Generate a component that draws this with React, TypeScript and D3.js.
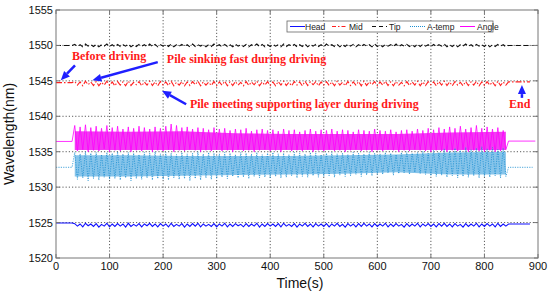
import React from "react";
import * as d3 from "d3";

const W = 550, H = 293;
const M = { left: 56, right: 12, top: 10, bottom: 35 };

const xTicks = [0, 100, 200, 300, 400, 500, 600, 700, 800, 900];
const yTicks = [1520, 1525, 1530, 1535, 1540, 1545, 1550, 1555];

const binTimes = [35,45,55,65,75,85,95,105,115,125,135,145,155,165,175,185,195,205,215,225,235,245,255,265,275,285,295,305,315,325,335,345,355,365,375,385,395,405,415,425,435,445,455,465,475,485,495,505,515,525,535,545,555,565,575,585,595,605,615,625,635,645,655,665,675,685,695,705,715,725,735,745,755,765,775,785,795,805,815,825,835];

const angleHi = [1538.7,1538.5,1538.8,1538.4,1538.6,1538.3,1538.7,
1538.4,1538.6,1538.2,1538.5,1538.3,1538.6,1538.4,1538.2,1538.5,1538.3,
1538.6,1538.9,1538.7,1538.4,1538.5,1538.2,1538.4,1538.3,1538.1,1538.4,
1538.2,1538.3,1538.0,1538.2,1538.1,1538.3,1537.9,1538.1,1538.2,1538.0,
1538.1,1537.9,1538.2,1538.0,1538.1,1537.8,1538.0,1538.2,1537.9,1538.1,
1538.0,1538.2,1537.9,1538.1,1538.0,1537.8,1538.1,1538.0,1537.9,1538.2,
1538.0,1537.9,1538.1,1537.8,1538.0,1538.1,1537.9,1538.2,1538.0,1538.3,
1538.1,1538.4,1538.2,1538.5,1538.3,1538.6,1538.2,1538.4,1538.7,1538.3,
1538.5,1538.2,1538.4,1538.0];
const angleLo = [1535.1,1535.3,1535.0,1535.2,1535.1,1535.4,1535.0,
1535.2,1535.1,1535.3,1535.0,1535.2,1535.1,1535.3,1535.0,1535.2,1535.1,
1535.3,1535.0,1535.2,1535.1,1535.3,1535.2,1535.0,1535.2,1535.1,1535.3,
1535.1,1535.2,1535.0,1535.3,1535.1,1535.2,1535.0,1535.2,1535.3,1535.1,
1535.2,1535.0,1535.3,1535.1,1535.2,1535.1,1535.3,1535.0,1535.2,1535.1,
1535.3,1535.1,1535.2,1535.0,1535.2,1535.3,1535.1,1535.2,1535.0,1535.2,
1535.1,1535.3,1535.2,1535.0,1535.2,1535.1,1535.3,1535.2,1535.1,1535.0,
1535.2,1535.1,1535.0,1535.2,1535.1,1535.3,1535.0,1535.2,1535.1,1535.0,
1535.2,1535.0,1535.1,1535.3];

const atempHi = [1534.9,1534.7,1535.0,1534.8,1534.9,1534.6,1534.9,
1534.8,1535.0,1534.7,1534.9,1534.8,1534.6,1534.9,1534.8,1535.0,1534.7,
1534.9,1534.8,1534.6,1534.9,1534.7,1534.8,1535.0,1534.7,1534.9,1534.8,
1534.7,1534.9,1534.8,1534.6,1534.9,1534.8,1534.7,1534.9,1534.6,1534.8,
1534.9,1534.7,1534.8,1534.6,1534.9,1534.8,1534.7,1534.9,1534.8,1534.6,
1534.8,1534.9,1534.7,1534.8,1534.6,1534.9,1534.8,1534.7,1534.9,1534.8,
1534.7,1534.9,1534.8,1534.6,1534.9,1535.0,1534.8,1534.9,1535.1,1534.8,
1535.2,1534.9,1535.4,1535.1,1535.5,1535.2,1535.6,1535.3,1535.5,1535.7,
1535.4,1535.6,1535.3,1535.5];
const atempLo = [1531.1,1531.3,1530.9,1531.2,1531.0,1531.4,1531.1,
1531.2,1531.0,1531.3,1530.9,1531.2,1531.1,1531.3,1531.0,1531.2,1531.1,
1531.0,1531.3,1531.1,1531.2,1530.9,1531.2,1531.0,1531.3,1531.1,1531.2,
1531.4,1531.2,1531.5,1531.3,1531.4,1531.2,1531.5,1531.3,1531.4,1531.3,
1531.5,1531.3,1531.4,1531.6,1531.3,1531.5,1531.4,1531.6,1531.4,1531.5,
1531.6,1531.4,1531.7,1531.5,1531.6,1531.8,1531.5,1531.7,1531.6,1531.8,
1531.8,1532.0,1531.7,1531.9,1532.0,1531.8,1532.1,1531.9,1531.8,1531.6,
1531.5,1531.7,1531.4,1531.6,1531.3,1531.5,1531.4,1531.6,1531.3,1531.5,
1531.4,1531.6,1531.3,1531.5];

const headHi = [1524.85,1524.8,1524.9,1524.8,1524.85,1524.75,1524.9,
1524.8,1524.85,1524.8,1524.9,1524.75,1524.85,1524.8,1524.9,1524.8,1524.85,
1524.8,1524.9,1524.75,1524.85,1524.8,1524.85,1524.9,1524.8,1524.75,1524.85,
1524.8,1524.9,1524.8,1524.85,1524.75,1524.85,1524.8,1524.9,1524.8,1524.85,
1524.8,1524.85,1524.9,1524.75,1524.85,1524.8,1524.9,1524.8,1524.85,1524.8,
1524.85,1524.8,1524.9,1524.75,1524.85,1524.8,1524.85,1524.9,1524.8,1524.85,
1524.8,1524.9,1524.8,1524.85,1524.75,1524.85,1524.8,1524.9,1524.8,1524.85,
1524.8,1524.85,1524.9,1524.8,1524.85,1524.75,1524.85,1524.8,1524.9,1524.8,
1524.85,1524.8,1524.9,1524.8];
const headLo = [1524.5,1524.4,1524.55,1524.45,1524.35,1524.5,1524.4,
1524.45,1524.5,1524.35,1524.45,1524.5,1524.4,1524.55,1524.45,1524.4,1524.5,
1524.4,1524.45,1524.5,1524.35,1524.45,1524.5,1524.4,1524.5,1524.45,1524.4,
1524.5,1524.4,1524.45,1524.55,1524.4,1524.45,1524.5,1524.35,1524.45,1524.5,
1524.45,1524.4,1524.5,1524.45,1524.35,1524.5,1524.45,1524.4,1524.5,1524.45,
1524.4,1524.5,1524.45,1524.35,1524.5,1524.4,1524.45,1524.5,1524.4,1524.45,
1524.5,1524.4,1524.45,1524.5,1524.35,1524.45,1524.5,1524.4,1524.5,1524.45,
1524.4,1524.5,1524.45,1524.4,1524.5,1524.35,1524.45,1524.5,1524.4,1524.45,
1524.5,1524.4,1524.45,1524.5];

const midHi = [1544.9,1544.85,1544.95,1544.85,1544.9,1544.8,1544.95,
1544.85,1544.9,1544.85,1544.95,1544.8,1544.9,1544.85,1544.95,1544.85,1544.9,
1544.85,1544.95,1544.8,1544.9,1544.85,1544.9,1544.95,1544.85,1544.8,1544.9,
1544.85,1544.95,1544.85,1544.9,1544.8,1544.9,1544.85,1544.95,1544.85,1544.9,
1544.85,1544.9,1544.95,1544.8,1544.9,1544.85,1544.95,1544.85,1544.9,1544.85,
1544.9,1544.85,1544.95,1544.8,1544.9,1544.85,1544.9,1544.95,1544.85,1544.9,
1544.85,1544.95,1544.85,1544.9,1544.8,1544.9,1544.85,1544.95,1544.85,1544.9,
1544.85,1544.9,1544.95,1544.85,1544.9,1544.8,1544.9,1544.85,1544.95,1544.85,
1544.9,1544.85,1544.95,1544.85];
const midLo = [1544.4,1544.3,1544.45,1544.35,1544.3,1544.4,1544.35,
1544.3,1544.4,1544.3,1544.35,1544.45,1544.3,1544.4,1544.35,1544.3,1544.4,
1544.35,1544.3,1544.4,1544.3,1544.35,1544.45,1544.3,1544.4,1544.35,1544.3,
1544.4,1544.3,1544.35,1544.4,1544.3,1544.35,1544.45,1544.3,1544.4,1544.35,
1544.3,1544.4,1544.35,1544.3,1544.4,1544.3,1544.35,1544.45,1544.3,1544.4,
1544.35,1544.3,1544.4,1544.3,1544.35,1544.4,1544.3,1544.35,1544.45,1544.3,
1544.4,1544.35,1544.3,1544.4,1544.3,1544.35,1544.4,1544.3,1544.35,1544.45,
1544.3,1544.4,1544.35,1544.3,1544.4,1544.3,1544.35,1544.4,1544.3,1544.35,
1544.4,1544.3,1544.35,1544.4];

const tipHi = [1550.15,1550.1,1550.2,1550.1,1550.15,1550.1,1550.2,
1550.1,1550.15,1550.1,1550.2,1550.1,1550.15,1550.1,1550.2,1550.15,1550.1,
1550.15,1550.2,1550.1,1550.15,1550.1,1550.2,1550.1,1550.15,1550.1,1550.2,
1550.1,1550.15,1550.1,1550.2,1550.1,1550.15,1550.1,1550.2,1550.15,1550.1,
1550.15,1550.1,1550.2,1550.1,1550.15,1550.1,1550.2,1550.1,1550.15,1550.1,
1550.2,1550.1,1550.15,1550.1,1550.2,1550.15,1550.1,1550.15,1550.1,1550.2,
1550.1,1550.15,1550.1,1550.2,1550.1,1550.15,1550.1,1550.2,1550.15,1550.1,
1550.15,1550.1,1550.2,1550.1,1550.15,1550.1,1550.2,1550.1,1550.15,1550.1,
1550.2,1550.1,1550.15,1550.1];
const tipLo = [1549.85,1549.8,1549.9,1549.85,1549.8,1549.9,1549.85,
1549.8,1549.85,1549.9,1549.8,1549.85,1549.9,1549.8,1549.85,1549.8,1549.9,
1549.85,1549.8,1549.9,1549.85,1549.8,1549.85,1549.9,1549.8,1549.85,1549.9,
1549.8,1549.85,1549.8,1549.9,1549.85,1549.8,1549.9,1549.85,1549.8,1549.85,
1549.9,1549.8,1549.85,1549.9,1549.8,1549.85,1549.8,1549.9,1549.85,1549.8,
1549.9,1549.85,1549.8,1549.85,1549.9,1549.8,1549.85,1549.9,1549.8,1549.85,
1549.8,1549.9,1549.85,1549.8,1549.9,1549.85,1549.8,1549.85,1549.9,1549.8,
1549.85,1549.9,1549.8,1549.85,1549.8,1549.9,1549.85,1549.8,1549.9,1549.85,
1549.8,1549.85,1549.9,1549.8];

// dense core envelopes (knots)
const coreTimes = [35, 135, 235, 335, 435, 535, 635, 735, 840];
const angleCoreHi = [1537.9, 1537.8, 1537.9, 1537.6, 1537.5, 1537.5, 1537.5, 1537.7, 1537.8];
const angleCoreLo = [1535.25, 1535.25, 1535.25, 1535.25, 1535.25, 1535.25, 1535.25, 1535.25, 1535.25];
const atempCoreHi = [1534.5, 1534.5, 1534.4, 1534.4, 1534.4, 1534.5, 1534.6, 1534.9, 1535.0];
const atempCoreLo = [1531.5, 1531.5, 1531.6, 1531.7, 1531.8, 1531.9, 1532.1, 1531.8, 1531.8];

const seriesNames = ["Head", "Mid", "Tip", "A-temp", "Angle"];
const preEnd = 30;
const postStart = 845;
const preValues = [1524.95, 1544.75, 1550.0, 1532.8, 1536.45];
const postValues = [1524.8, 1544.85, 1550.0, 1532.8, 1536.5];
const postEnds = [885, 885, 890, 890, 895];

const colors = ["#1010ff", "#ff2020", "#111111", "#1d8fd2", "#ff00ff"];
const dashes = ["", "6,2,1.5,2", "5,3", "1.2,1.2", ""];

const annotations = [
  { text: "Before driving", t: 30, w: 1548.0, anchor: "start" },
  { text: "Pile sinking fast during driving", t: 207, w: 1547.5, anchor: "start" },
  { text: "Pile meeting supporting layer during driving", t: 250, w: 1541.2, anchor: "start" },
  { text: "End", t: 866, w: 1541.2, anchor: "middle" },
];
const arrows = [
  { t1: 35.5, w1: 1547.2, t2: 9, w2: 1545.1 },
  { t1: 190, w1: 1547.65, t2: 68, w2: 1545.1 },
  { t1: 243, w1: 1541.7, t2: 198, w2: 1543.6 },
  { t1: 870, w1: 1542.6, t2: 870, w2: 1544.4 },
];

export default function App() {
  const x = d3.scaleLinear().domain([0, 900]).range([M.left, W - M.right]);
  const y = d3.scaleLinear().domain([1520, 1555]).range([H - M.bottom, M.top]);
  const x0 = x(0), x1 = x(900), y0 = y(1520), y1 = y(1555);

  const his = [headHi, midHi, tipHi, atempHi, angleHi];
  const los = [headLo, midLo, tipLo, atempLo, angleLo];

  const line = d3.line<[number, number]>().x(d => x(d[0])).y(d => y(d[1]));

  const buildPts = (k: number): [number, number][] => {
    const pts: [number, number][] = [[0, preValues[k]], [preEnd, preValues[k]]];
    binTimes.forEach((t, i) => {
      const next = i < binTimes.length - 1 ? binTimes[i + 1] : t + (t - binTimes[i - 1]);
      pts.push([t, his[k][i]]);
      pts.push([(t + next) / 2, los[k][i]]);
    });
    pts.push([postStart, postValues[k]]);
    pts.push([postEnds[k], postValues[k]]);
    return pts;
  };

  const coreArea = (hi: number[], lo: number[]) =>
    d3.area<number>()
      .x((_, i) => x(coreTimes[i]))
      .y0((_, i) => y(lo[i]))
      .y1((_, i) => y(hi[i]))(coreTimes) as string;

  const order = [0, 1, 2, 4, 3];

  const arrowPath = (a: typeof arrows[0]) => {
    const xa = x(a.t1), ya = y(a.w1), xb = x(a.t2), yb = y(a.w2);
    const ang = Math.atan2(yb - ya, xb - xa);
    const L = 9, Wd = 4;
    const bx = xb - L * Math.cos(ang), by = yb - L * Math.sin(ang);
    const px = -Math.sin(ang) * Wd, py = Math.cos(ang) * Wd;
    return {
      shaft: `M${xa},${ya}L${bx},${by}`,
      head: `M${xb},${yb}L${bx + px},${by + py}L${bx - px},${by - py}Z`,
    };
  };

  const legX = 287, legY = 21, legW = 206, legH = 11;
  const legItems = [
    { lx: 290, tx: 305 },
    { lx: 332, tx: 349 },
    { lx: 372, tx: 389 },
    { lx: 410, tx: 427 },
    { lx: 460, tx: 477 },
  ];

  return (
    <svg width={W} height={H} style={{ position: "absolute", left: 0, top: 0, background: "#fff" }}
      fontFamily="'Liberation Sans', Arial, sans-serif">
      <rect x={0} y={0} width={W} height={H} fill="#fff" />
      {xTicks.slice(1, -1).map(t => (
        <line key={"gx" + t} x1={x(t)} x2={x(t)} y1={y0} y2={y1} stroke="#333" strokeWidth={0.8} strokeDasharray="1.2,2" />
      ))}
      {yTicks.slice(1, -1).map(t => (
        <line key={"gy" + t} x1={x0} x2={x1} y1={y(t)} y2={y(t)} stroke="#333" strokeWidth={0.8} strokeDasharray="1.2,2" />
      ))}
      <path d={coreArea(angleCoreHi, angleCoreLo)} fill="#f23cf2" />
      <path d={coreArea(atempCoreHi, atempCoreLo)} fill="#86c4ea" />
      {order.map(k => (
        <path key={"s" + k} d={line(buildPts(k)) as string} fill="none" stroke={colors[k]}
          strokeWidth={k >= 3 ? 0.8 : 1.1} strokeDasharray={dashes[k] || undefined} />
      ))}
      <rect x={x0} y={y1} width={x1 - x0} height={y0 - y1} fill="none" stroke="#777" strokeWidth={1} />
      {xTicks.map(t => (
        <g key={"xt" + t}>
          <line x1={x(t)} x2={x(t)} y1={y0} y2={y0 - 4} stroke="#777" />
          <line x1={x(t)} x2={x(t)} y1={y1} y2={y1 + 4} stroke="#777" />
          <text x={x(t)} y={y0 + 12} textAnchor="middle" fontSize={11} fill="#111">{t}</text>
        </g>
      ))}
      {yTicks.map(t => (
        <g key={"yt" + t}>
          <line x1={x0} x2={x0 + 4} y1={y(t)} y2={y(t)} stroke="#777" />
          <line x1={x1} x2={x1 - 4} y1={y(t)} y2={y(t)} stroke="#777" />
          <text x={x0 - 3} y={y(t) + 4} textAnchor="end" fontSize={11} fill="#111">{t}</text>
        </g>
      ))}
      <text x={(x0 + x1) / 2 + 3} y={288} textAnchor="middle" fontSize={14} fill="#111">Time(s)</text>
      <text transform={`translate(14,${(y0 + y1) / 2}) rotate(-90)`} textAnchor="middle" fontSize={14} fill="#111">Wavelength(nm)</text>
      <rect x={legX} y={legY} width={legW} height={legH} fill="#fff" stroke="#666" strokeWidth={0.8} />
      {legItems.map((it, k) => (
        <g key={"lg" + k}>
          <line x1={it.lx} x2={it.lx + 15} y1={legY + legH / 2} y2={legY + legH / 2} stroke={colors[k]}
            strokeWidth={1} strokeDasharray={dashes[k] ? (k === 3 ? "1,1" : k === 1 ? "4,2,1.5,2" : "4,3") : undefined} />
          <text x={it.tx} y={legY + legH / 2 + 3} fontSize={8.5} fill="#222">{seriesNames[k]}</text>
        </g>
      ))}
      {annotations.map((a, i) => (
        <text key={"an" + i} x={x(a.t)} y={y(a.w)} textAnchor={a.anchor as any}
          fontFamily="'Liberation Serif', 'Times New Roman', serif" fontWeight="bold" fontSize={12} fill="#ff1a1a">{a.text}</text>
      ))}
      {arrows.map((a, i) => {
        const p = arrowPath(a);
        return (
          <g key={"ar" + i}>
            <path d={p.shaft} stroke="#1f1fff" strokeWidth={2.5} fill="none" />
            <path d={p.head} fill="#1f1fff" />
          </g>
        );
      })}
    </svg>
  );
}
